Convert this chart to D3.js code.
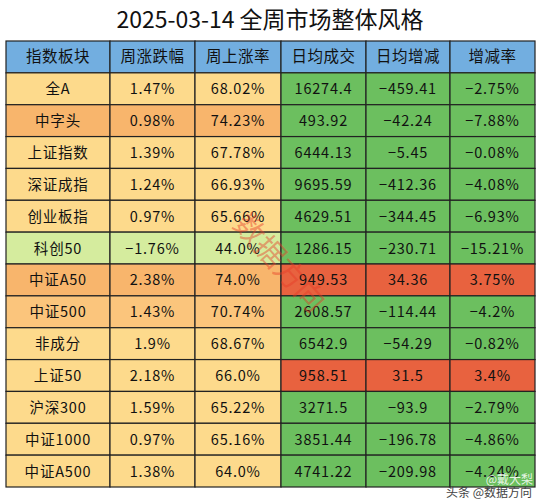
<!DOCTYPE html>
<html><head><meta charset="utf-8">
<script src="https://cdn.jsdelivr.net/npm/d3@7"></script>
<style>body{margin:0;background:#fff}</style>
</head><body><svg id="c" width="541" height="500"></svg>
<script>
const headers=["指数板块","周涨跌幅","周上涨率","日均成交","日均增减","增减率"];
const names=["全A","中字头","上证指数","深证成指","创业板指","科创50","中证A50","中证500","非成分","上证50","沪深300","中证1000","中证A500"];
const weekChg=["1.47%","0.98%","1.39%","1.24%","0.97%","-1.76%","2.38%","1.43%","1.9%","2.18%","1.59%","0.97%","1.38%"];
const upRate=["68.02%","74.23%","67.78%","66.93%","65.66%","44.0%","74.0%","70.74%","68.67%","66.0%","65.22%","65.16%","64.0%"];
const avgVol=["16274.4","493.92","6444.13","9695.59","4629.51","1286.15","949.53","2608.57","6542.9","958.51","3271.5","3851.44","4741.22"];
const avgDelta=["-459.41","-42.24","-5.45","-412.36","-344.45","-230.71","34.36","-114.44","-54.29","31.5","-93.9","-196.78","-209.98"];
const deltaRate=["-2.75%","-7.88%","-0.08%","-4.08%","-6.93%","-15.21%","3.75%","-4.2%","-0.82%","3.4%","-2.79%","-4.86%","-4.24%"];
const leftTone=["y","o","y","y","y","g","o","lo","y","y","y","y","y"];

const svg=d3.select("#c");
const font="'Noto Sans CJK SC','DejaVu Sans',sans-serif";
svg.append("text").attr("x",270).attr("y",28).attr("text-anchor","middle")
  .attr("font-family",font).attr("font-size",23).attr("fill","#111").text("2025-03-14  全周市场整体风格");
const edges=[6,110,195,281,366,450,535];
const y=d3.scaleBand().domain(d3.range(14)).range([41,487]);
const leftCol={y:"#fdda8c",o:"#f8b56c",lo:"#fbc57c",g:"#d5ec9e"};
const rows=names.map((n,i)=>[n,weekChg[i],upRate[i],avgVol[i],avgDelta[i],deltaRate[i]]);
const all=[headers,...rows];
all.forEach((r,ri)=>{
  r.forEach((v,ci)=>{
    let fill;
    if(ri===0) fill="#72aee0";
    else if(ci<3) fill=leftCol[leftTone[ri-1]];
    else fill=parseFloat(avgDelta[ri-1])>0?"#e8623f":"#6cbf5f";
    svg.append("rect").attr("x",edges[ci]).attr("y",y(ri)).attr("width",edges[ci+1]-edges[ci])
      .attr("height",y.bandwidth()).attr("fill",fill).attr("stroke","#222").attr("stroke-width",1.2);
    svg.append("text").attr("x",(edges[ci]+edges[ci+1])/2).attr("y",y(ri)+y.bandwidth()/2+5.5)
      .attr("text-anchor","middle").attr("font-family",font).attr("font-size",ri===0?15.5:14.5)
      .attr("letter-spacing",ri===0?0.5:0.8)
      .attr("fill","#111").text(v.replace("-","−"));
  });
});
svg.append("text").attr("transform","translate(272,270) rotate(48)").attr("text-anchor","middle")
  .attr("font-family",font).attr("font-size",30).attr("fill","rgba(230,60,40,0.45)").text("数据方向");
svg.append("text").attr("x",533).attr("y",484).attr("text-anchor","end").attr("font-family",font)
  .attr("font-size",12).attr("fill","rgba(255,255,255,0.85)").text("@戴大梨");
svg.append("text").attr("x",532).attr("y",497).attr("text-anchor","end").attr("font-family",font)
  .attr("font-size",12).attr("fill","#444").text("头条 @数据方向");
</script></body></html>
